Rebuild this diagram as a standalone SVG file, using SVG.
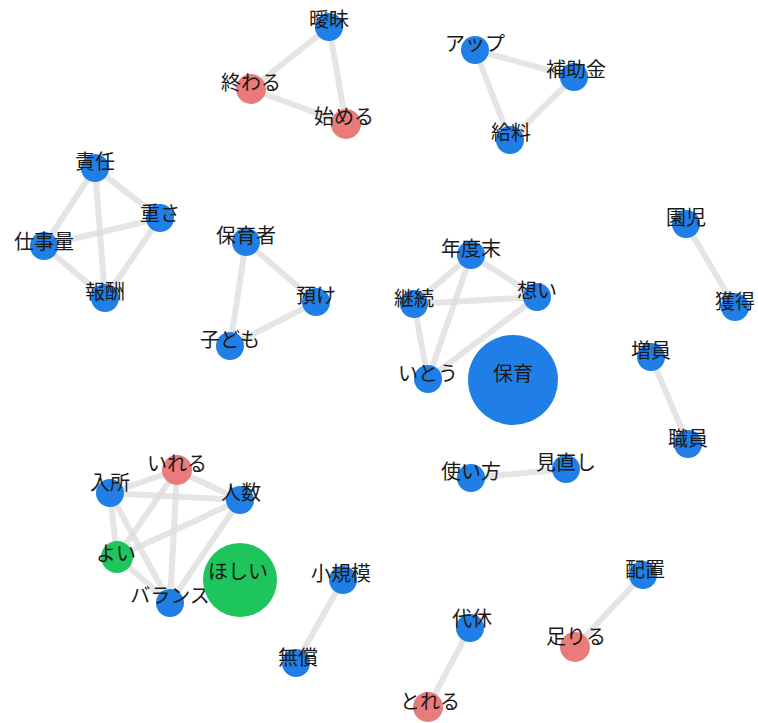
<svg xmlns="http://www.w3.org/2000/svg" width="758" height="723" viewBox="0 0 758 723">
<style>
.e{stroke:#dcdcdc;stroke-width:6;stroke-opacity:0.75;stroke-linecap:round;fill:none}
.b{fill:#1f7fe6}
.r{fill:#e97b7b}
.g{fill:#1ec45c}
text{font-family:"Noto Sans CJK JP","Noto Sans",sans-serif;font-size:20px;fill:#1a1a1a;text-anchor:middle;dominant-baseline:central}
</style>
<rect width="758" height="723" fill="#fff"/>
<g id="edges">
<line class="e" x1="329" y1="27" x2="251" y2="89"/>
<line class="e" x1="329" y1="27" x2="346" y2="124"/>
<line class="e" x1="251" y1="89" x2="346" y2="124"/>
<line class="e" x1="475" y1="50" x2="574" y2="77"/>
<line class="e" x1="475" y1="50" x2="510" y2="140"/>
<line class="e" x1="574" y1="77" x2="510" y2="140"/>
<line class="e" x1="95" y1="168" x2="160" y2="218"/>
<line class="e" x1="95" y1="168" x2="44" y2="246"/>
<line class="e" x1="95" y1="168" x2="105" y2="298"/>
<line class="e" x1="44" y1="246" x2="160" y2="218"/>
<line class="e" x1="44" y1="246" x2="105" y2="298"/>
<line class="e" x1="160" y1="218" x2="105" y2="298"/>
<line class="e" x1="246" y1="242" x2="316" y2="302"/>
<line class="e" x1="246" y1="242" x2="230" y2="346"/>
<line class="e" x1="316" y1="302" x2="230" y2="346"/>
<line class="e" x1="471" y1="255" x2="537" y2="297"/>
<line class="e" x1="471" y1="255" x2="414" y2="304"/>
<line class="e" x1="471" y1="255" x2="428" y2="379"/>
<line class="e" x1="414" y1="304" x2="537" y2="297"/>
<line class="e" x1="414" y1="304" x2="428" y2="379"/>
<line class="e" x1="537" y1="297" x2="428" y2="379"/>
<line class="e" x1="686" y1="224" x2="735" y2="307"/>
<line class="e" x1="651" y1="357" x2="688" y2="444"/>
<line class="e" x1="471" y1="478" x2="566" y2="469"/>
<line class="e" x1="177" y1="470" x2="110" y2="493"/>
<line class="e" x1="177" y1="470" x2="240" y2="500"/>
<line class="e" x1="177" y1="470" x2="117" y2="557"/>
<line class="e" x1="177" y1="470" x2="170" y2="603"/>
<line class="e" x1="110" y1="493" x2="240" y2="500"/>
<line class="e" x1="110" y1="493" x2="117" y2="557"/>
<line class="e" x1="110" y1="493" x2="170" y2="603"/>
<line class="e" x1="240" y1="500" x2="117" y2="557"/>
<line class="e" x1="240" y1="500" x2="170" y2="603"/>
<line class="e" x1="117" y1="557" x2="170" y2="603"/>
<line class="e" x1="343" y1="580" x2="296" y2="663"/>
<line class="e" x1="470" y1="628" x2="428" y2="707"/>
<line class="e" x1="643" y1="575" x2="575" y2="647"/>
</g>
<g id="n-aimai"><circle class="b" cx="329" cy="27" r="14"/><text x="329" y="18">曖昧</text></g>
<g id="n-owaru"><circle class="r" cx="251" cy="89" r="15"/><text x="251" y="81">終わる</text></g>
<g id="n-hajimeru"><circle class="r" cx="346" cy="124" r="15"/><text x="344" y="115">始める</text></g>
<g id="n-up"><circle class="b" cx="475" cy="50" r="14"/><text x="475" y="42">アップ</text></g>
<g id="n-hojokin"><circle class="b" cx="574" cy="77" r="14"/><text x="576" y="68">補助金</text></g>
<g id="n-kyuryo"><circle class="b" cx="510" cy="140" r="14"/><text x="511" y="131">給料</text></g>
<g id="n-sekinin"><circle class="b" cx="95" cy="168" r="14"/><text x="95" y="160">責任</text></g>
<g id="n-omosa"><circle class="b" cx="160" cy="218" r="14"/><text x="160" y="212">重さ</text></g>
<g id="n-shigotoryo"><circle class="b" cx="44" cy="246" r="14"/><text x="44" y="240">仕事量</text></g>
<g id="n-hoshu"><circle class="b" cx="105" cy="298" r="14"/><text x="105" y="290">報酬</text></g>
<g id="n-hoikusha"><circle class="b" cx="246" cy="242" r="14"/><text x="246" y="234">保育者</text></g>
<g id="n-azuke"><circle class="b" cx="316" cy="302" r="14"/><text x="316" y="294">預け</text></g>
<g id="n-kodomo"><circle class="b" cx="230" cy="346" r="14"/><text x="230" y="338">子ども</text></g>
<g id="n-nendomatsu"><circle class="b" cx="471" cy="255" r="14"/><text x="471" y="247">年度末</text></g>
<g id="n-omoi"><circle class="b" cx="537" cy="297" r="14"/><text x="537" y="289">想い</text></g>
<g id="n-keizoku"><circle class="b" cx="414" cy="304" r="14"/><text x="414" y="297">継続</text></g>
<g id="n-itou"><circle class="b" cx="428" cy="379" r="14"/><text x="428" y="372">いとう</text></g>
<g id="n-hoiku"><circle class="b" cx="513" cy="380" r="45"/><text x="513" y="372">保育</text></g>
<g id="n-enji"><circle class="b" cx="686" cy="224" r="14"/><text x="686" y="216">園児</text></g>
<g id="n-kakutoku"><circle class="b" cx="735" cy="307" r="14"/><text x="735" y="300">獲得</text></g>
<g id="n-zoin"><circle class="b" cx="651" cy="357" r="14"/><text x="651" y="349">増員</text></g>
<g id="n-shokuin"><circle class="b" cx="688" cy="444" r="14"/><text x="688" y="437">職員</text></g>
<g id="n-tsukaikata"><circle class="b" cx="471" cy="478" r="14"/><text x="471" y="470">使い方</text></g>
<g id="n-minaoshi"><circle class="b" cx="566" cy="469" r="14"/><text x="566" y="461">見直し</text></g>
<g id="n-ireru"><circle class="r" cx="177" cy="470" r="15"/><text x="177" y="462">いれる</text></g>
<g id="n-nyusho"><circle class="b" cx="110" cy="493" r="14"/><text x="110" y="481">入所</text></g>
<g id="n-ninzu"><circle class="b" cx="240" cy="500" r="14"/><text x="241" y="491">人数</text></g>
<g id="n-yoi"><circle class="g" cx="117" cy="557" r="16"/><text x="116" y="552">よい</text></g>
<g id="n-balance"><circle class="b" cx="170" cy="603" r="14"/><text x="170" y="594">バランス</text></g>
<g id="n-hoshii"><circle class="g" cx="240" cy="580" r="37"/><text x="238" y="570">ほしい</text></g>
<g id="n-shokibo"><circle class="b" cx="343" cy="580" r="14"/><text x="341" y="572">小規模</text></g>
<g id="n-musho"><circle class="b" cx="296" cy="663" r="14"/><text x="298" y="656">無償</text></g>
<g id="n-daikyu"><circle class="b" cx="470" cy="628" r="14"/><text x="472" y="617">代休</text></g>
<g id="n-toreru"><circle class="r" cx="428" cy="707" r="15"/><text x="430" y="700">とれる</text></g>
<g id="n-tariru"><circle class="r" cx="575" cy="647" r="15"/><text x="576" y="635">足りる</text></g>
<g id="n-haichi"><circle class="b" cx="643" cy="575" r="14"/><text x="645" y="568">配置</text></g>
</svg>
